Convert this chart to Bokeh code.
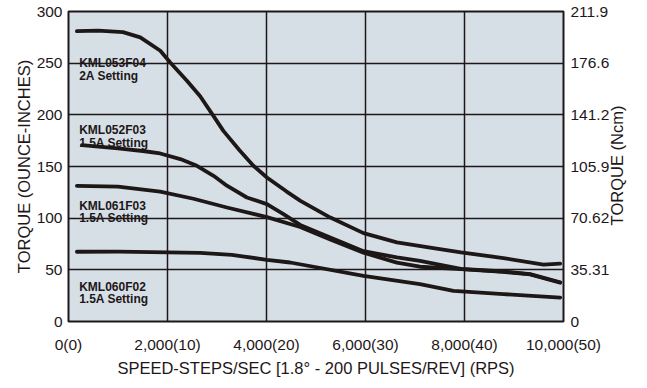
import math
from bokeh.plotting import figure
from bokeh.models import LinearAxis, FixedTicker, Label, Range1d
from bokeh.embed import file_html
from bokeh.resources import INLINE

# ---- data ----
speed_ticks = [0, 2000, 4000, 6000, 8000, 10000]
speed_labels = ["0(0)", "2,000(10)", "4,000(20)", "6,000(30)", "8,000(40)", "10,000(50)"]
torque_ticks = [0, 50, 100, 150, 200, 250, 300]
ncm_labels = ["0", "35.31", "70.62", "105.9", "141.2", "176.6", "211.9"]

kml053_x = [170, 600, 1100, 1450, 1855, 2055, 2392, 2660, 2927, 3129, 3450, 3735, 4008, 4400,
            4686, 5290, 5960, 6634, 7306, 7927, 8787, 9595, 9933]
kml053_y = [281, 281.5, 280, 275, 262, 250.6, 233, 218, 199, 184.5, 166, 150.7, 139.4, 126,
            116.8, 100.6, 85.5, 76.5, 71.6, 66.8, 61.4, 55, 56]

kml052_x = [271, 1000, 1500, 1852, 2258, 2594, 2930, 3200, 3604, 4008, 4343, 4680, 5300, 5960,
            6634, 7100, 7927, 8787, 9327, 9933]
kml052_y = [170.7, 167.5, 165, 162.6, 157.2, 150.7, 141, 131.4, 120, 113.6, 104, 93.5, 81, 68,
            62, 58.7, 51, 48.4, 45.9, 38]

kml061_x = [170, 1000, 1852, 2525, 3200, 4008, 4680, 5300, 5960, 6634, 7100, 7927, 8787, 9327, 9933]
kml061_y = [131.3, 130.5, 125.6, 118.8, 110.3, 101, 91.5, 79, 66.5, 57, 53, 50.7, 48, 45.5, 37.5]

kml060_x = [170, 1000, 2000, 2660, 3300, 4008, 4478, 5960, 7100, 7777, 8787, 9933]
kml060_y = [67.5, 67.6, 66.8, 66.5, 64.5, 59.7, 57.1, 44.2, 36.2, 29.7, 26.5, 23.2]

series_names = ["KML053F04", "KML052F03", "KML061F03", "KML060F02"]
series_settings = ["2A Setting", "1.5A Setting", "1.5A Setting", "1.5A Setting"]
right_title = "TORQUE (Ncm)"

FONT = "Liberation Sans"
INK = "#1e1718"

p = figure(width=647, height=388, x_range=Range1d(0, 10000), y_range=Range1d(0, 300),
           output_backend="svg", toolbar_location=None,
           min_border_left=68, min_border_right=84, min_border_top=11, min_border_bottom=67)

p.background_fill_color = "#d6dfe6"
p.border_fill_color = "white"
p.outline_line_color = INK
p.outline_line_width = 2

for xs, ys in [(kml053_x, kml053_y), (kml052_x, kml052_y), (kml061_x, kml061_y), (kml060_x, kml060_y)]:
    p.line(xs, ys, line_color=INK, line_width=3.8, line_cap="round", line_join="round")

def style_axis(ax, label=None, overrides=None):
    if label:
        ax.axis_label = label
    ax.axis_label_text_font = FONT
    ax.axis_label_text_font_size = "16.5px"
    ax.axis_label_text_font_style = "normal"
    ax.axis_label_text_color = INK
    ax.major_label_text_font = FONT
    ax.major_label_text_font_size = "15.5px"
    ax.major_label_text_color = INK
    ax.axis_line_color = None
    ax.major_tick_line_color = None
    ax.minor_tick_line_color = None
    ax.major_tick_out = 0
    ax.major_tick_in = 0
    ax.minor_tick_out = 0
    ax.minor_tick_in = 0
    if overrides:
        ax.major_label_overrides = overrides

xa = p.xaxis[0]
xa.ticker = FixedTicker(ticks=speed_ticks)
style_axis(xa, "SPEED-STEPS/SEC [1.8\u00b0 - 200 PULSES/REV] (RPS)",
           {t: l for t, l in zip(speed_ticks, speed_labels)})
xa.major_label_standoff = 14
xa.axis_label_standoff = 3

ya = p.yaxis[0]
ya.ticker = FixedTicker(ticks=torque_ticks)
style_axis(ya, "TORQUE (OUNCE-INCHES)", {t: str(t) for t in torque_ticks})
ya.major_label_standoff = 6
ya.axis_label_standoff = 1

# right axis: Ncm tick labels
ra = LinearAxis(ticker=FixedTicker(ticks=torque_ticks))
style_axis(ra, None, {t: l for t, l in zip(torque_ticks, ncm_labels)})
ra.major_label_standoff = 7
p.add_layout(ra, "right")

# right axis title, reading bottom to top: a single rotated label on an outer axis
rt = LinearAxis(ticker=FixedTicker(ticks=[93]))
style_axis(rt, None, {93: right_title})
rt.major_label_text_font_size = "16.5px"
rt.major_label_orientation = math.pi / 2
rt.major_label_standoff = 5
p.add_layout(rt, "right")

p.xgrid.ticker = FixedTicker(ticks=speed_ticks)
p.ygrid.ticker = FixedTicker(ticks=torque_ticks)
for g in (p.xgrid[0], p.ygrid[0]):
    g.grid_line_color = INK
    g.grid_line_width = 1.5
    g.grid_line_alpha = 1.0

label_rows = [(250.1, 237.8), (185.5, 173.2), (112.0, 99.7), (33.6, 21.7)]
for name, setting, (y1, y2) in zip(series_names, series_settings, label_rows):
    for txt, yy in ((name, y1), (setting, y2)):
        p.add_layout(Label(x=216, y=yy, text=txt, text_font=FONT, text_font_size="12px",
                           text_font_style="bold", text_color=INK, text_baseline="alphabetic"))

open("out.html", "w").write(file_html(p, INLINE))
